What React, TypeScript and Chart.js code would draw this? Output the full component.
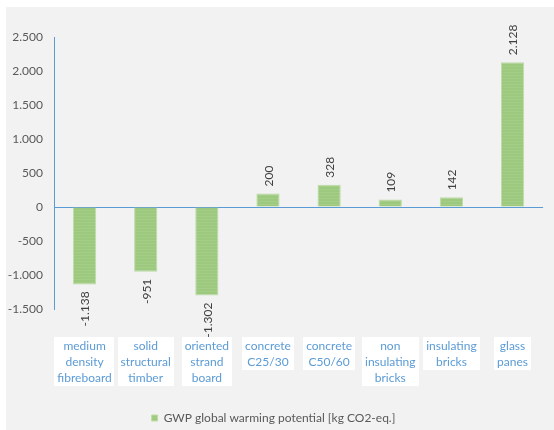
import React, { useEffect, useRef } from "react";
import { Chart, registerables } from "chart.js";

Chart.register(...registerables);

// Building materials (each entry is one category, split into its label lines)
const materials: string[][] = [
  ["medium", "density", "fibreboard"],
  ["solid", "structural", "timber"],
  ["oriented", "strand", "board"],
  ["concrete", "C25/30"],
  ["concrete", "C50/60"],
  ["non", "insulating", "bricks"],
  ["insulating", "bricks"],
  ["glass", "panes"],
];

// Global warming potential per material [kg CO2-eq.]
const gwpValues: number[] = [-1138, -951, -1302, 200, 328, 109, 142, 2128];

const seriesLabel = "GWP global warming potential [kg CO2-eq.]";

const yMin = -1500;
const yMax = 2500;
const yStep = 500;

const FONT = "Lato";
const BLUE = "#5b9bd5";
const TEXT_GREY = "#595959";
const LABEL_PAD = 29;
const LINE_H = 16;

// German-style thousands separator: 2128 -> "2.128"
function fmt(v: number): string {
  const s = Math.abs(Math.round(v))
    .toString()
    .replace(/\B(?=(\d{3})+(?!\d))/g, ".");
  return (v < 0 ? "-" : "") + s;
}

// Faint horizontal texture used as the bar fill
function makeBarPattern(): CanvasPattern | string {
  const c = document.createElement("canvas");
  c.width = 4;
  c.height = 3;
  const g = c.getContext("2d");
  if (!g) return "#9fca80";
  g.fillStyle = "#9dc97e";
  g.fillRect(0, 0, 4, 3);
  g.fillStyle = "#a4cd87";
  g.fillRect(0, 0, 4, 1);
  const p = g.createPattern(c, "repeat");
  return p || "#9fca80";
}

// White boxes behind the category labels
const labelBoxes = {
  id: "labelBoxes",
  beforeDraw(chart: any) {
    const xs = chart.scales.x;
    if (!xs) return;
    const ctx = chart.ctx as CanvasRenderingContext2D;
    ctx.save();
    ctx.font = `12px ${FONT}`;
    ctx.fillStyle = "#ffffff";
    const top = xs.top + LABEL_PAD - 1;
    materials.forEach((lines, i) => {
      const w = Math.max(...lines.map((l) => ctx.measureText(l).width));
      const cx = xs.getPixelForTick(i);
      ctx.fillRect(Math.round(cx - w / 2 - 3), top, Math.round(w + 6), lines.length * LINE_H + 1);
    });
    ctx.restore();
  },
};

// Rotated value labels at the end of each bar
const valueLabels = {
  id: "valueLabels",
  afterDatasetsDraw(chart: any) {
    const ctx = chart.ctx as CanvasRenderingContext2D;
    const meta = chart.getDatasetMeta(0);
    ctx.save();
    ctx.font = `12px ${FONT}`;
    ctx.fillStyle = "#404040";
    ctx.textBaseline = "middle";
    meta.data.forEach((bar: any, i: number) => {
      const v = gwpValues[i];
      const { x, y } = bar.getProps(["x", "y"], true);
      ctx.save();
      ctx.translate(x, v >= 0 ? y - 7 : y + 7);
      ctx.rotate(-Math.PI / 2);
      ctx.textAlign = v >= 0 ? "left" : "right";
      ctx.fillText(fmt(v), 0, 1);
      ctx.restore();
    });
    ctx.restore();
  },
};

export default function App() {
  const ref = useRef<HTMLCanvasElement | null>(null);

  useEffect(() => {
    if (!ref.current) return;
    const barFill = makeBarPattern();
    const chart = new Chart(ref.current, {
      type: "bar",
      data: {
        labels: materials,
        datasets: [
          {
            label: seriesLabel,
            data: gwpValues,
            backgroundColor: barFill as any,
            borderColor: "#bddca6",
            borderWidth: 1,
            categoryPercentage: 1,
            barPercentage: 0.38,
          },
        ],
      },
      options: {
        responsive: false,
        animation: false,
        devicePixelRatio: 1,
        layout: { padding: { top: 37, left: 0, right: 0, bottom: 0 } },
        plugins: {
          tooltip: { enabled: false },
          legend: {
            position: "bottom",
            labels: {
              boxWidth: 6,
              boxHeight: 6,
              padding: 10,
              color: TEXT_GREY,
              font: { family: FONT, size: 12 },
            },
          },
        },
        scales: {
          x: {
            grid: { display: false, drawTicks: false },
            border: { display: false },
            ticks: {
              color: BLUE,
              padding: LABEL_PAD,
              maxRotation: 0,
              minRotation: 0,
              autoSkip: false,
              font: { family: FONT, size: 12, lineHeight: LINE_H / 12 },
            },
            afterFit(scale: any) {
              const lg = scale.chart.legend;
              const lh = lg && lg.height ? lg.height : 32;
              scale.height = scale.chart.height - lh - 309;
            },
          },
          y: {
            min: yMin,
            max: yMax,
            grid: {
              drawTicks: false,
              lineWidth: 1,
              color: (c: any) => (c.tick && c.tick.value === 0 ? BLUE : "rgba(0,0,0,0)"),
            },
            border: { display: true, color: BLUE, width: 1 },
            ticks: {
              stepSize: yStep,
              padding: 11,
              color: TEXT_GREY,
              font: { family: FONT, size: 12 },
              callback: (v: any) => fmt(Number(v)),
            },
            afterFit(scale: any) {
              scale.width = 64;
            },
          },
        },
      },
      plugins: [labelBoxes, valueLabels],
    });
    return () => chart.destroy();
  }, []);

  return (
    <div
      style={{
        position: "fixed",
        left: 0,
        top: 0,
        width: 554,
        height: 430,
        overflow: "hidden",
        background: "#ffffff",
      }}
    >
      <div
        style={{
          position: "absolute",
          left: 6,
          top: 7,
          right: 0,
          bottom: 0,
          background: "#f2f2f2",
        }}
      />
      <canvas
        ref={ref}
        width={567}
        height={434}
        style={{ position: "absolute", left: -10, top: 0, width: 567, height: 434 }}
      />
    </div>
  );
}
